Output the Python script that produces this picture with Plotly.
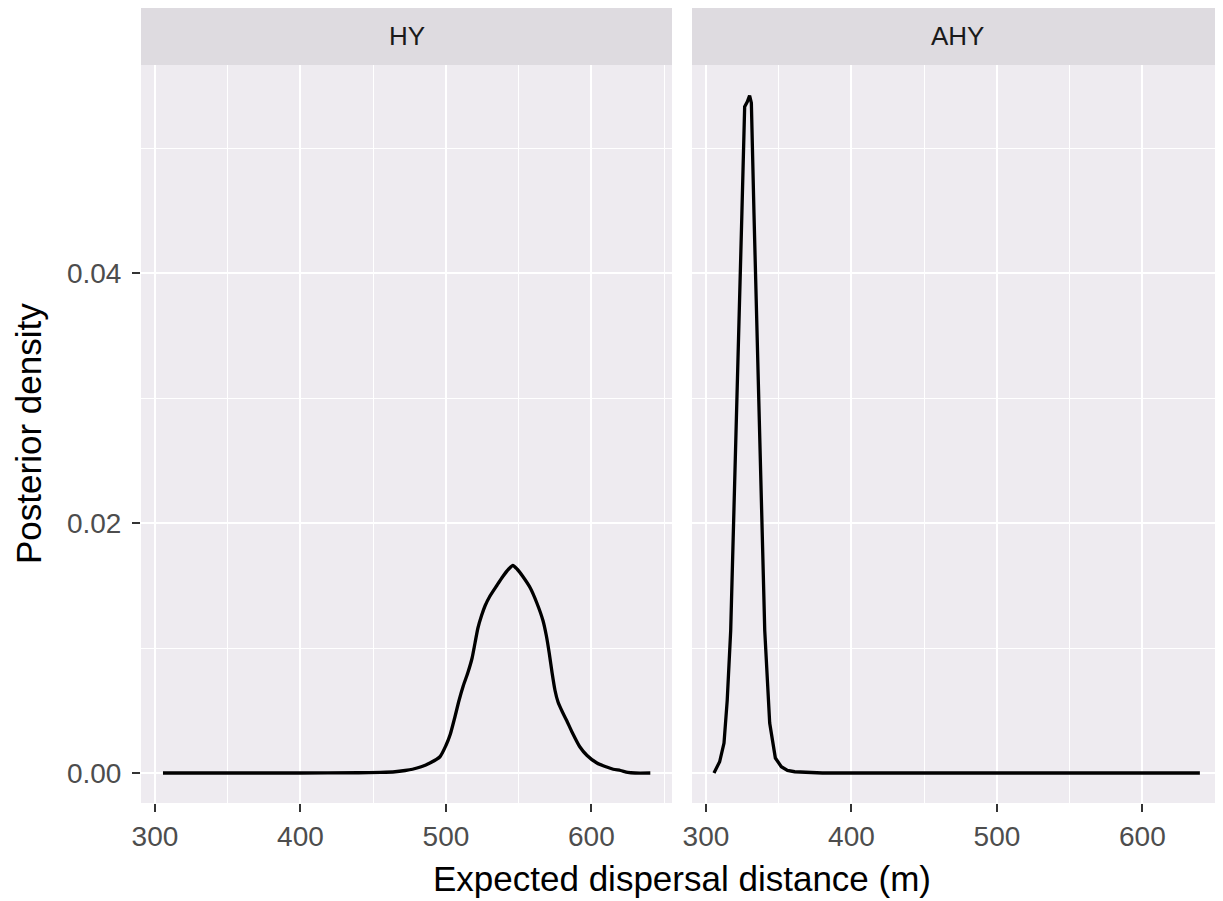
import plotly.graph_objects as go

# ---------------- data ----------------
panels = ["HY", "AHY"]

hy_x = [305.5, 400, 440, 455, 465, 472, 477, 483, 489, 495.9, 500, 503, 506, 509,
        512, 515, 518, 520, 522, 524.5, 527, 530, 535, 539, 543, 546, 549, 553,
        558, 562.5, 566.7, 569, 571, 573, 575, 577, 580, 583, 587, 592, 597,
        603.8, 610, 615, 620, 625, 630, 640.5]
hy_y = [0, 0, 0.00002, 0.00005, 0.0001, 0.0002, 0.0003, 0.0005, 0.0008, 0.0013,
        0.0022, 0.0031, 0.0044, 0.0058, 0.0070, 0.0080, 0.0092, 0.0104, 0.0116,
        0.0126, 0.0134, 0.0141, 0.0150, 0.0157, 0.0163, 0.0166, 0.0163, 0.0157,
        0.0148, 0.0136, 0.0122, 0.0110, 0.0096, 0.0080, 0.0066, 0.0057, 0.0049,
        0.0042, 0.0032, 0.0021, 0.0014, 0.0008, 0.0005, 0.0003, 0.0002, 0.00005,
        0.0, 0]

ahy_x = [305.5, 309.4, 312.4, 314.6, 317, 319.7, 322.5, 324.7, 326.6, 328.4, 330,
         331.2, 333, 335.3, 337.6, 340.4, 343.8, 347.7, 351.8, 356, 361, 380, 639.5]
ahy_y = [0, 0.0009, 0.0024, 0.0058, 0.0114, 0.0225, 0.0336, 0.0448, 0.0533, 0.0537,
         0.0542, 0.0536, 0.0448, 0.0336, 0.0225, 0.0114, 0.0040, 0.0012, 0.0005,
         0.0002, 0.0001, 0, 0]

x_ticks = [300, 400, 500, 600]
y_ticks = [0.00, 0.02, 0.04]
y_tick_labels = ["0.00", "0.02", "0.04"]

x_title = "Expected dispersal distance (m)"
y_title = "Posterior density"

# ---------------- style ----------------
FONT = "Liberation Sans, Arial, sans-serif"
PANEL_BG = "#EEEBF0"
STRIP_BG = "#DEDBE0"
TICK_COL = "#4D4D4D"

# page body has an 8px margin, so the figure is sized to fit the window
W, H = 1215, 893
ML, MR, MT, MB = 133, 0, 0, 98
plot_w = W - ML - MR
plot_h = H - MT - MB
panel_top_frac = (795 - 57) / plot_h

dom_left = [0.0, 531 / plot_w]
dom_right = [551 / plot_w, 1.0]

x_range = [290.4, 655.4]
y_range = [-0.0024, 0.05664]

fig = go.Figure()
fig.add_trace(go.Scatter(x=hy_x, y=hy_y, mode="lines",
                         line=dict(color="black", width=3.3, shape="spline", smoothing=0.6),
                         xaxis="x", yaxis="y", showlegend=False, hoverinfo="skip"))
fig.add_trace(go.Scatter(x=ahy_x, y=ahy_y, mode="lines",
                         line=dict(color="black", width=3.3),
                         xaxis="x2", yaxis="y2", showlegend=False, hoverinfo="skip"))

xaxis_common = dict(range=x_range, tickvals=x_ticks, ticktext=[str(v) for v in x_ticks],
                    showgrid=True, gridcolor="white", gridwidth=2, zeroline=False,
                    ticks="outside", ticklen=8, tickwidth=2, tickcolor="#333333",
                    tickfont=dict(family=FONT, size=28, color=TICK_COL),
                    minor=dict(tickvals=[350, 450, 550, 650], showgrid=True,
                               gridcolor="white", gridwidth=1, ticks=""),
                    showline=False, fixedrange=True)
yaxis_common = dict(range=y_range, tickvals=y_ticks, ticktext=y_tick_labels,
                    showgrid=True, gridcolor="white", gridwidth=2, zeroline=False,
                    ticks="outside", ticklen=8, tickwidth=2, tickcolor="#333333",
                    tickfont=dict(family=FONT, size=28, color=TICK_COL),
                    ticklabelstandoff=5,
                    minor=dict(tickvals=[0.01, 0.03, 0.05], showgrid=True,
                               gridcolor="white", gridwidth=1, ticks=""),
                    showline=False, fixedrange=True,
                    domain=[0, panel_top_frac])

fig.update_layout(
    width=W, height=H,
    margin=dict(l=ML, r=MR, t=MT, b=MB, autoexpand=False),
    paper_bgcolor="white",
    plot_bgcolor=PANEL_BG,
    xaxis=dict(domain=dom_left, anchor="y", **xaxis_common),
    xaxis2=dict(domain=dom_right, anchor="y2", **xaxis_common),
    yaxis=dict(anchor="x", **yaxis_common),
    yaxis2=dict(anchor="x2", **{**yaxis_common, "showticklabels": False, "ticks": ""}),
    showlegend=False,
)

# strips
for dom, label in zip([dom_left, dom_right], panels):
    fig.add_shape(type="rect", xref="paper", yref="paper",
                  x0=dom[0], x1=dom[1], y0=panel_top_frac, y1=1.0,
                  fillcolor=STRIP_BG, line=dict(width=0), layer="below")
    fig.add_annotation(xref="paper", yref="paper", x=(dom[0] + dom[1]) / 2,
                       y=(panel_top_frac + 1.0) / 2, text=label, showarrow=False,
                       font=dict(family=FONT, size=26, color="#1A1A1A"),
                       xanchor="center", yanchor="middle")

# axis titles
fig.add_annotation(xref="paper", yref="paper", x=0.5, y=0, yshift=-75,
                   text=x_title, showarrow=False, xanchor="center", yanchor="middle",
                   font=dict(family=FONT, size=35, color="black"))
fig.add_annotation(xref="paper", yref="paper", x=0, xshift=-113,
                   y=panel_top_frac / 2, text=y_title, showarrow=False, textangle=-90,
                   xanchor="center", yanchor="middle",
                   font=dict(family=FONT, size=35, color="black"))

fig.write_html("out.html")
